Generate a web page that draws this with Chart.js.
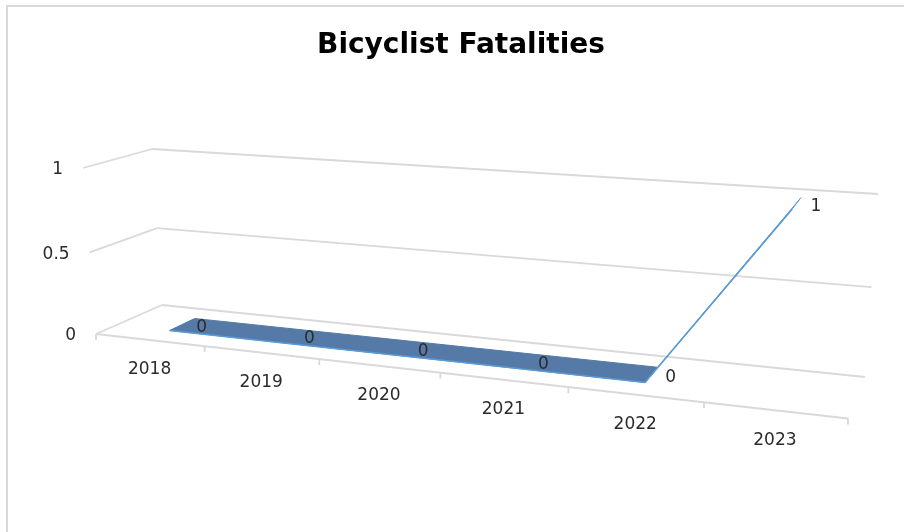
<!DOCTYPE html>
<html>
<head>
<meta charset="utf-8">
<script src="https://cdn.jsdelivr.net/npm/chart.js@4.4.0/dist/chart.umd.min.js"></script>
<style>
  html, body { margin: 0; padding: 0; background: #fff; }
  #wrap { width: 904px; height: 532px; position: relative; }
</style>
</head>
<body>
<div id="wrap"><canvas id="chart"></canvas></div>
<script>
// data
const categories = ['2018', '2019', '2020', '2021', '2022', '2023'];
const fatalities = [0, 0, 0, 0, 0, 1];
const valueTicks = [0, 0.5, 1];
const chartTitle = 'Bicyclist Fatalities';

// 3D box corners on screen: [u0v0, u1v0, u1v1, u0v1]
const FRONT = [[96, 334], [848, 418.5], [861, 224], [83, 168]];
const BACK = [[162, 305], [865, 377], [878, 194], [152, 149]];
const RIBBON_FRONT = 0.32;
const RIBBON_BACK = 0.72;

const GRID = '#D9D9D9';
const RIBBON_TOP = '#557AA8';
const RIBBON_EDGE = '#5B9BD5';
const TEXT = '#2B2B2B';

// unit square -> quad (Heckbert)
function quadMap(q) {
    const [x0, y0] = q[0], [x1, y1] = q[1], [x2, y2] = q[2], [x3, y3] = q[3];
    const dx1 = x1 - x2, dx2 = x3 - x2, dx3 = x0 - x1 + x2 - x3;
    const dy1 = y1 - y2, dy2 = y3 - y2, dy3 = y0 - y1 + y2 - y3;
    const den = dx1 * dy2 - dx2 * dy1;
    const g = (dx3 * dy2 - dx2 * dy3) / den;
    const h = (dx1 * dy3 - dx3 * dy1) / den;
    const a = x1 - x0 + g * x1, b = x3 - x0 + h * x3, c = x0;
    const d = y1 - y0 + g * y1, e = y3 - y0 + h * y3, f = y0;
    return (u, v) => {
        const w = g * u + h * v + 1;
        return { x: (a * u + b * v + c) / w, y: (d * u + e * v + f) / w };
    };
}
const frontMap = quadMap(FRONT);
const backMap = quadMap(BACK);

function project(u, v, depth) {
    const f = frontMap(u, v), b = backMap(u, v);
    return { x: f.x + (b.x - f.x) * depth, y: f.y + (b.y - f.y) * depth };
}

function toUV(chart, px, py) {
    const a = chart.chartArea;
    return { u: (px - a.left) / (a.right - a.left), v: (a.bottom - py) / (a.bottom - a.top) };
}

function line(ctx, p, q) {
    ctx.beginPath();
    ctx.moveTo(p.x, p.y);
    ctx.lineTo(q.x, q.y);
    ctx.stroke();
}

const perspective = {
    id: 'perspective',
    beforeDraw(chart) {
        const ctx = chart.ctx;
        ctx.save();
        ctx.strokeStyle = GRID;
        ctx.lineWidth = 2;
        ctx.strokeRect(7, 6, chart.width + 10, chart.height + 10);
        ctx.restore();
    },
    afterDatasetsUpdate(chart) {
        // project the library's flat point positions onto the ribbon's front edge
        const meta = chart.getDatasetMeta(0);
        meta.$uv = meta.data.map(pt => toUV(chart, pt.x, pt.y));
        meta.data.forEach((pt, i) => {
            const p = project(meta.$uv[i].u, meta.$uv[i].v, RIBBON_FRONT);
            pt.x = p.x;
            pt.y = p.y;
        });
    },
    beforeDatasetsDraw(chart) {
        const ctx = chart.ctx;
        const ys = chart.scales.y;
        const n = categories.length;
        ctx.save();
        ctx.strokeStyle = GRID;
        ctx.lineWidth = 1.8;

        // walls
        valueTicks.forEach(t => {
            const v = toUV(chart, 0, ys.getPixelForValue(t)).v;
            line(ctx, frontMap(0, v), backMap(0, v));
            line(ctx, backMap(0, v), backMap(1, v));
        });
        // floor front edge + ticks
        line(ctx, frontMap(0, 0), frontMap(1, 0));
        for (let k = 0; k <= n; k++) {
            const p = frontMap(k / n, 0);
            line(ctx, p, { x: p.x, y: p.y + 6 });
        }

        // ribbon faces
        const uv = chart.getDatasetMeta(0).$uv;
        ctx.lineJoin = 'round';
        ctx.lineWidth = 1;
        for (let i = 0; i < uv.length - 1; i++) {
            const a = uv[i], b = uv[i + 1];
            const q = [
                project(a.u, a.v, RIBBON_FRONT), project(b.u, b.v, RIBBON_FRONT),
                project(b.u, b.v, RIBBON_BACK), project(a.u, a.v, RIBBON_BACK)
            ];
            ctx.beginPath();
            ctx.moveTo(q[0].x, q[0].y);
            q.slice(1).forEach(p => ctx.lineTo(p.x, p.y));
            ctx.closePath();
            const col = fatalities[i] === fatalities[i + 1] ? RIBBON_TOP : RIBBON_EDGE;
            ctx.fillStyle = col;
            ctx.strokeStyle = col;
            ctx.fill();
            ctx.stroke();
        }
        ctx.restore();
    },
    afterDatasetsDraw(chart) {
        const ctx = chart.ctx;
        const xs = chart.scales.x, ys = chart.scales.y;
        const uv = chart.getDatasetMeta(0).$uv;
        ctx.save();
        ctx.fillStyle = TEXT;
        ctx.textBaseline = 'middle';

        // data labels
        ctx.font = '17px "DejaVu Sans"';
        ctx.textAlign = 'left';
        uv.forEach((p, i) => {
            const m = project(p.u, p.v, (RIBBON_FRONT + RIBBON_BACK) / 2);
            ctx.fillText(String(fatalities[i]), m.x + 14, m.y + 3);
        });

        // value axis labels
        ctx.font = '17px "DejaVu Sans"';
        ctx.textAlign = 'right';
        valueTicks.forEach(t => {
            const v = toUV(chart, 0, ys.getPixelForValue(t)).v;
            const p = frontMap(0, v);
            ctx.fillText(String(t), p.x - 20, p.y + 2);
        });

        // category labels
        ctx.textAlign = 'center';
        categories.forEach((c, i) => {
            const u = toUV(chart, xs.getPixelForValue(i), 0).u;
            const p = frontMap(u, 0);
            ctx.fillText(c, p.x, p.y + 30);
        });
        ctx.restore();
    }
};

new Chart(document.getElementById('chart'), {
    type: 'line',
    data: {
        labels: categories,
        datasets: [{
            label: 'Fatalities',
            data: fatalities,
            borderColor: RIBBON_EDGE,
            borderWidth: 1.5,
            pointRadius: 0,
            fill: false,
            clip: false,
            tension: 0
        }]
    },
    options: {
        responsive: true,
        maintainAspectRatio: false,
        animation: false,
        layout: { padding: { left: 18, right: 0, top: 0, bottom: 40 } },
        plugins: {
            legend: { display: false },
            tooltip: { enabled: false },
            title: {
                display: true,
                text: chartTitle,
                color: '#000',
                font: { family: 'DejaVu Sans', size: 28, weight: 'bold' },
                padding: { top: 29, bottom: 60 }
            }
        },
        scales: {
            x: { type: 'category', offset: true, display: false },
            y: { min: 0, max: 1, display: false }
        }
    },
    plugins: [perspective]
});
</script>
</body>
</html>
